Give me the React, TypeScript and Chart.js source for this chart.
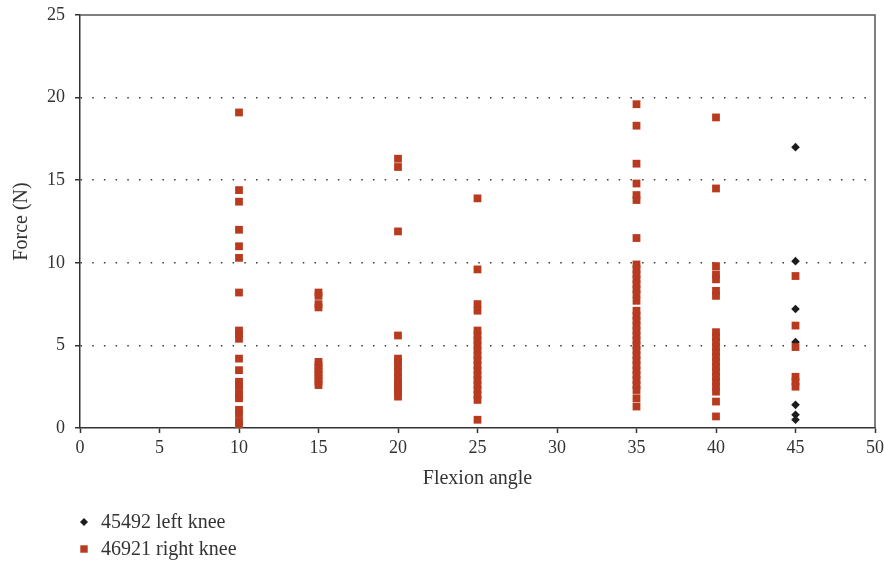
import React, { useEffect, useRef } from "react";
import { Chart, registerables } from "chart.js";

Chart.register(...registerables);

// ---- Data ----
const leftKneeLabel = "45492 left knee";
const rightKneeLabel = "46921 right knee";

const leftKneeAngle45 = [17.0, 10.1, 7.2, 5.2, 1.4, 0.8, 0.5];

const rightKnee10 = [19.1, 14.4, 13.7, 12.0, 11.0, 10.3, 8.2, 5.9, 5.7, 5.4, 4.2, 3.5, 2.8, 2.6, 2.3, 2.0, 1.8, 1.1, 0.85, 0.4, 0.2];
const rightKnee15 = [8.2, 8.0, 7.5, 7.3, 4.0, 3.8, 3.6, 3.4, 3.2, 3.0, 2.8, 2.6];
const rightKnee20 = [16.3, 15.8, 11.9, 5.6, 4.2, 4.0, 3.7, 3.4, 3.1, 2.8, 2.6, 2.4, 2.2, 1.9];
const rightKnee25 = [13.9, 9.6, 7.5, 7.1, 5.9, 5.6, 5.3, 5.0, 4.7, 4.4, 4.1, 3.8, 3.5, 3.2, 2.9, 2.6, 2.3, 2.0, 1.7, 0.5];
const rightKnee35 = [19.6, 18.3, 16.0, 14.8, 14.1, 13.8, 11.5, 9.9, 9.6, 9.3, 9.0, 8.7, 8.4, 8.1, 7.7, 7.1, 6.8, 6.5, 6.2, 5.9, 5.6, 5.3, 5.0, 4.7, 4.4, 4.1, 3.8, 3.5, 3.2, 2.9, 2.6, 2.3, 1.8, 1.3];
const rightKnee40 = [18.8, 14.5, 9.8, 9.3, 9.0, 8.3, 8.0, 5.8, 5.5, 5.2, 4.9, 4.6, 4.3, 4.0, 3.7, 3.4, 3.1, 2.8, 2.5, 2.2, 1.6, 0.7];
const rightKnee45 = [9.2, 6.2, 4.9, 3.1, 2.8, 2.5];

const xTicks = [0, 5, 10, 15, 20, 25, 30, 35, 40, 45, 50];
const yTicks = [0, 5, 10, 15, 20, 25];

const xTitle = "Flexion angle";
const yTitle = "Force (N)";

const leftColor = "#1c1c1c";
const rightColor = "#b83a1f";
const textColor = "#333333";
const FONT = "'Liberation Serif', 'DejaVu Serif', serif";

const toPoints = (angle: number, values: number[]) => values.map((v) => ({ x: angle, y: v }));

const leftData = toPoints(45, leftKneeAngle45);
const rightData = [
  ...toPoints(10, rightKnee10),
  ...toPoints(15, rightKnee15),
  ...toPoints(20, rightKnee20),
  ...toPoints(25, rightKnee25),
  ...toPoints(35, rightKnee35),
  ...toPoints(40, rightKnee40),
  ...toPoints(45, rightKnee45),
];

const framePlugin = {
  id: "frameAndLegend",
  afterDraw(chart: any) {
    const { ctx, chartArea } = chart;
    const { left, right, top, bottom } = chartArea;
    ctx.save();
    ctx.strokeStyle = "#555555";
    ctx.lineWidth = 1.5;
    ctx.beginPath();
    ctx.moveTo(left, top);
    ctx.lineTo(right, top);
    ctx.lineTo(right, bottom);
    ctx.stroke();

    // custom legend (stacked vertically)
    const items = [
      { label: leftKneeLabel, color: leftColor, style: "diamond" },
      { label: rightKneeLabel, color: rightColor, style: "square" },
    ];
    ctx.font = `20px ${FONT}`;
    ctx.textBaseline = "middle";
    ctx.textAlign = "left";
    items.forEach((it, i) => {
      const mx = left + 4;
      const my = bottom + 94 + i * 27;
      ctx.fillStyle = it.color;
      if (it.style === "diamond") {
        const r = 4;
        ctx.beginPath();
        ctx.moveTo(mx - r, my);
        ctx.lineTo(mx, my - r);
        ctx.lineTo(mx + r, my);
        ctx.lineTo(mx, my + r);
        ctx.closePath();
        ctx.fill();
      } else {
        ctx.fillRect(mx - 3.7, my - 3.7, 7.4, 7.4);
      }
      ctx.fillStyle = textColor;
      ctx.fillText(it.label, left + 21, my + 1);
    });
    ctx.restore();
  },
};

export default function App() {
  const canvasRef = useRef<HTMLCanvasElement | null>(null);

  useEffect(() => {
    document.body.style.margin = "0";
    const canvas = canvasRef.current;
    if (!canvas) return;
    const chart = new Chart(canvas, {
      type: "scatter",
      data: {
        datasets: [
          {
            label: leftKneeLabel,
            data: leftData,
            backgroundColor: leftColor,
            borderWidth: 0,
            pointStyle: "rectRot",
            pointRadius: 4.3,
            order: 2,
          },
          {
            label: rightKneeLabel,
            data: rightData,
            backgroundColor: rightColor,
            borderWidth: 0,
            pointStyle: "rect",
            pointRadius: 5.5,
            order: 1,
          },
        ],
      },
      options: {
        responsive: false,
        animation: false,
        devicePixelRatio: 1,
        layout: { padding: { left: 0, right: 9, top: 15, bottom: 68 } },
        plugins: {
          legend: { display: false },
          tooltip: { enabled: false },
        },
        scales: {
          x: {
            type: "linear",
            min: 0,
            max: 50,
            afterBuildTicks: (scale: any) => {
              scale.ticks = xTicks.map((v) => ({ value: v }));
            },
            afterFit: (scale: any) => {
              scale.height = 67;
              scale.paddingLeft = 0;
              scale.paddingRight = 0;
            },
            ticks: {
              color: textColor,
              font: { family: FONT, size: 18 },
              padding: 4,
              maxRotation: 0,
            },
            grid: {
              drawOnChartArea: false,
              drawTicks: true,
              tickLength: 5,
              tickColor: "#333333",
              tickWidth: 1.5,
            },
            border: { display: true, color: "#333333", width: 1.5 },
            title: {
              display: true,
              text: xTitle,
              color: textColor,
              font: { family: FONT, size: 20 },
              padding: { top: 0, bottom: 4 },
            },
          },
          y: {
            type: "linear",
            min: 0,
            max: 25,
            afterBuildTicks: (scale: any) => {
              scale.ticks = yTicks.map((v) => ({ value: v }));
            },
            afterFit: (scale: any) => {
              scale.width = 80;
              scale.paddingTop = 0;
              scale.paddingBottom = 0;
            },
            ticks: {
              color: textColor,
              font: { family: FONT, size: 18 },
              padding: 10,
            },
            grid: {
              drawOnChartArea: true,
              drawTicks: true,
              tickLength: 5,
              color: (ctx: any) => {
                const v = ctx.tick ? ctx.tick.value : null;
                return v === 0 || v === 25 ? "rgba(0,0,0,0)" : "#3a3a3a";
              },
              lineWidth: 1.5,
              tickColor: "#333333",
              tickWidth: 1.5,
              tickBorderDash: [],
            },
            border: { display: true, color: "#333333", width: 1.5, dash: [1.5, 10.2] },
            title: {
              display: true,
              text: yTitle,
              color: textColor,
              font: { family: FONT, size: 20 },
              padding: { top: 10, bottom: 0 },
            },
          },
        },
      },
      plugins: [framePlugin],
    } as any);
    return () => chart.destroy();
  }, []);

  return (
    <div style={{ width: 884, height: 563 }}>
      <canvas ref={canvasRef} width={884} height={563} style={{ width: 884, height: 563, display: "block" }} />
    </div>
  );
}
